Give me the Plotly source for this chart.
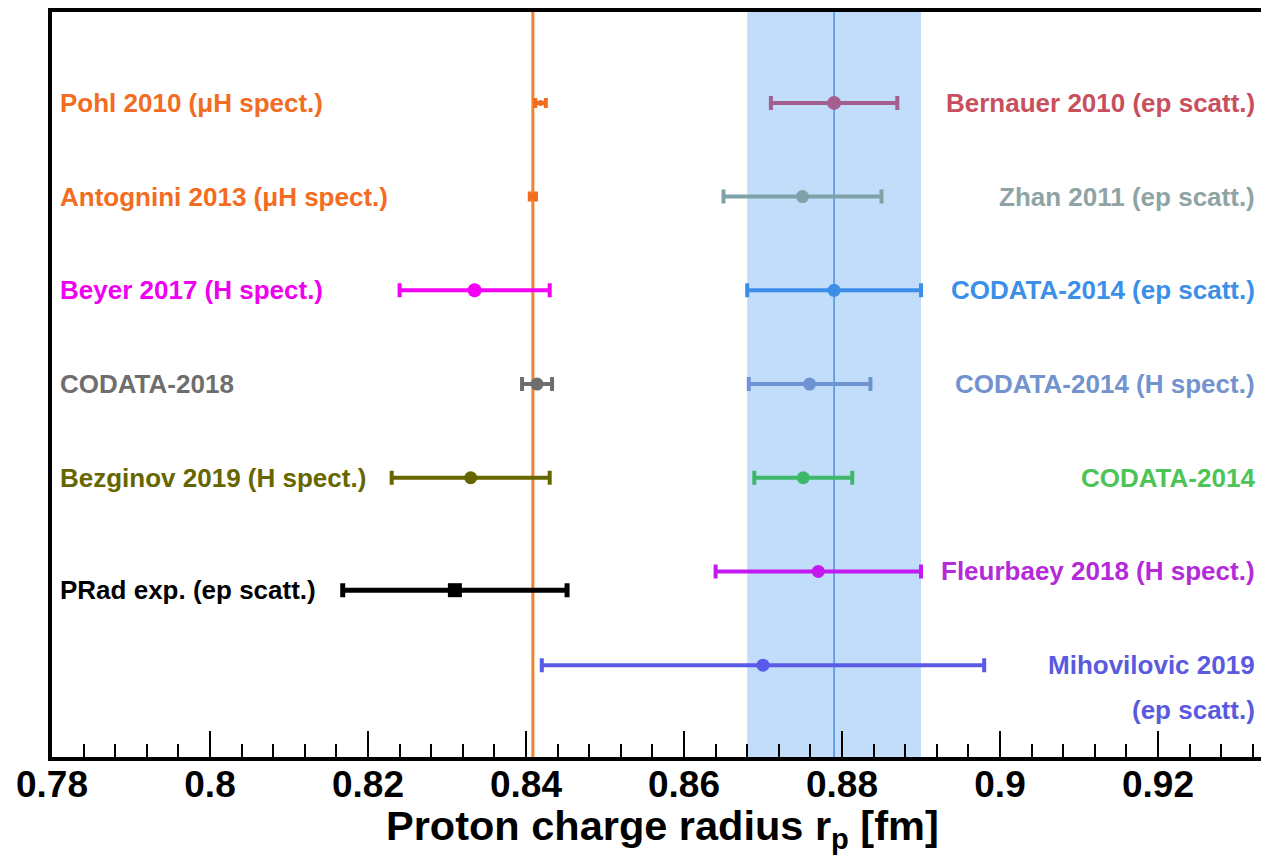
import plotly.graph_objects as go

# ---------------- data ----------------
names = [
    "Pohl 2010 (μH spect.)",
    "Antognini 2013 (μH spect.)",
    "Beyer 2017 (H spect.)",
    "CODATA-2018",
    "Bezginov 2019 (H spect.)",
    "PRad exp. (ep scatt.)",
    "Bernauer 2010 (ep scatt.)",
    "Zhan 2011 (ep scatt.)",
    "CODATA-2014 (ep scatt.)",
    "CODATA-2014 (H spect.)",
    "CODATA-2014",
    "Fleurbaey 2018 (H spect.)",
    "Mihovilovic 2019",
]
radius = [0.84184, 0.84087, 0.8335, 0.8414, 0.833, 0.831,
          0.879, 0.875, 0.879, 0.8759, 0.8751, 0.877, 0.870]
error = [0.00067, 0.00039, 0.0095, 0.0019, 0.010, 0.0142,
         0.008, 0.010, 0.011, 0.0077, 0.0062, 0.013, 0.028]
row = [0, 1, 2, 3, 4, 5.2, 0, 1, 2, 3, 4, 5, 6]
side = ["L"] * 6 + ["R"] * 7
marker_colors = ["#F26C22", "#F26C22", "#F400F4", "#6E6E6E", "#666600", "#000000",
                 "#A35F8E", "#7FA2A8", "#3B8FE8", "#6E92D2", "#3DB868", "#C21AF0", "#5A5AE8"]
text_colors = ["#F26C22", "#F26C22", "#F000F0", "#6E6E6E", "#666600", "#000000",
               "#C8505E", "#8EA4A4", "#3B8FE8", "#7393CF", "#4CC456", "#B52AD8", "#5A5AE0"]
marker_symbols = ["circle"] * 5 + ["square"] + ["circle"] * 7
marker_sizes = [6, 6, 14, 13, 13, 14, 14, 13, 13, 13, 13, 13, 13]
extra_label = "(ep scatt.)"
extra_row = 6.48

mu_h_value = 0.84087          # vertical muonic-hydrogen line
band_center = 0.879           # CODATA-2014 ep band
band_halfwidth = 0.011

x_range = [0.78, 0.93304]
y_range = [6.98, -0.97]

FONT = "Liberation Sans, Arial, sans-serif"

fig = go.Figure()

# band and lines
fig.add_shape(type="rect", xref="x", yref="paper",
              x0=band_center - band_halfwidth, x1=band_center + band_halfwidth,
              y0=0, y1=1, fillcolor="#C2DDFA", line_width=0, layer="below")
fig.add_shape(type="line", xref="x", yref="paper", x0=band_center, x1=band_center,
              y0=0, y1=1, line=dict(color="#4F8FD8", width=1.5), layer="below")
fig.add_shape(type="line", xref="x", yref="paper", x0=mu_h_value, x1=mu_h_value,
              y0=0, y1=1, line=dict(color="#F5822A", width=3), layer="below")

for i in range(len(names)):
    thick = 5 if marker_colors[i] == "#000000" else 4
    cap = 7 if marker_sizes[i] > 6 else 5
    fig.add_trace(go.Scatter(
        x=[radius[i]], y=[row[i]], mode="markers",
        marker=dict(color=marker_colors[i], size=marker_sizes[i], symbol=marker_symbols[i]),
        error_x=dict(type="data", array=[error[i]], color=marker_colors[i],
                     thickness=thick, width=cap),
        showlegend=False, hoverinfo="skip"))
    if side[i] == "L":
        fig.add_annotation(xref="paper", x=0.005, xanchor="left", yref="y", y=row[i],
                           text=names[i], showarrow=False,
                           font=dict(family=FONT, size=26, color=text_colors[i], weight="bold"))
    else:
        fig.add_annotation(xref="paper", x=0.9965, xanchor="right", yref="y", y=row[i],
                           text=names[i], showarrow=False,
                           font=dict(family=FONT, size=26, color=text_colors[i], weight="bold"))

fig.add_annotation(xref="paper", x=0.9965, xanchor="right", yref="y", y=extra_row,
                   text=extra_label, showarrow=False,
                   font=dict(family=FONT, size=26, color=text_colors[-1], weight="bold"))

# axis title as annotation
fig.add_annotation(xref="paper", x=0.505, xanchor="center", yref="paper", y=-0.058,
                   yanchor="top", showarrow=False,
                   text="Proton charge radius r<sub>p</sub> [fm]",
                   font=dict(family=FONT, size=41.5, color="black", weight="bold"))

fig.update_layout(
    width=1261, height=862,
    margin=dict(l=52, r=0, t=12, b=105),
    paper_bgcolor="white", plot_bgcolor="white",
    xaxis=dict(range=x_range, showgrid=False, zeroline=False,
               showline=True, linecolor="black", linewidth=4, mirror=True,
               ticks="inside", ticklen=26, tickwidth=1.5, tickcolor="black",
               tick0=0.78, dtick=0.02,
               minor=dict(ticks="inside", ticklen=13, tickwidth=1.5, tickcolor="black",
                          tick0=0.78, dtick=0.004, showgrid=False),
               tickfont=dict(family=FONT, size=37, color="black", weight="bold"),
               ticklabelstandoff=-8),
    yaxis=dict(range=y_range, showgrid=False, zeroline=False, showticklabels=False,
               showline=True, linecolor="black", linewidth=4, mirror=False, ticks=""),
)

fig.write_html("out.html")
